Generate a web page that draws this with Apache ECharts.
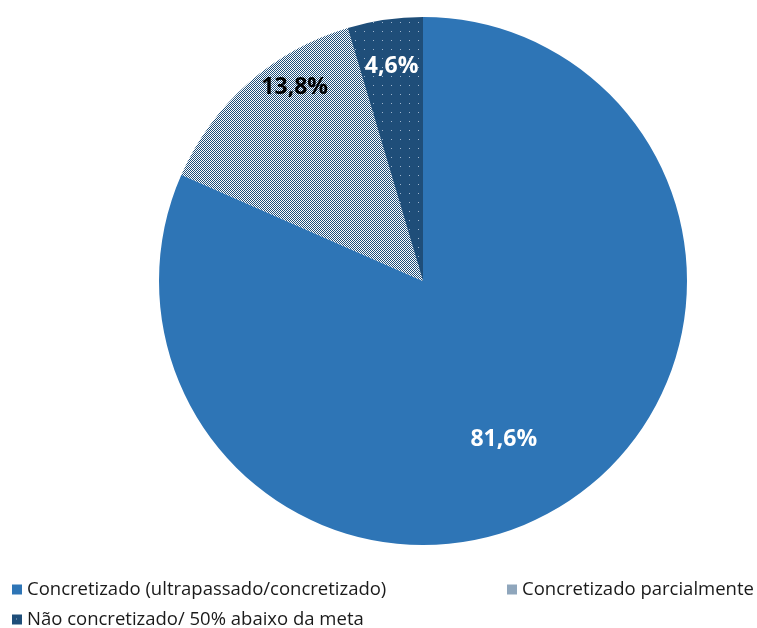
<!DOCTYPE html>
<html><head><meta charset="utf-8">
<script src="https://cdn.jsdelivr.net/npm/echarts@6/dist/echarts.min.js"></script>
<style>html,body{margin:0;padding:0;background:#fff}#c{width:757px;height:628px}</style>
</head><body><div id="c"></div>
<script>
const categories = ['Concretizado (ultrapassado/concretizado)', 'Concretizado parcialmente', 'Não concretizado/ 50% abaixo da meta'];
const values = [81.6, 13.8, 4.6];
const labelTexts = ['81,6%', '13,8%', '4,6%'];

function checker() {
  const c = document.createElement('canvas'); c.width = 2; c.height = 2;
  const g = c.getContext('2d');
  g.fillStyle = '#ffffff'; g.fillRect(0, 0, 2, 2);
  g.fillStyle = '#1F4E79'; g.fillRect(0, 0, 1, 1); g.fillRect(1, 1, 1, 1);
  return c;
}
function dots() {
  const c = document.createElement('canvas'); c.width = 9; c.height = 9;
  const g = c.getContext('2d');
  g.fillStyle = '#1F4E79'; g.fillRect(0, 0, 9, 9);
  g.fillStyle = '#9fb6cf'; g.fillRect(4, 4, 1, 1);
  return c;
}
const fills = ['#2E75B6', {image: checker(), repeat: 'repeat'}, {image: dots(), repeat: 'repeat'}];
const labelColors = ['#ffffff', '#000000', '#ffffff'];
const labelOffsets = [[7, 45], [-39, -92], [-12, -81]];

const chart = echarts.init(document.getElementById('c'));
const legendText = {fontFamily: 'Open Sans', fontSize: 18.5, color: '#1a1a1a'};
const legendBase = {itemWidth: 10, itemHeight: 10, icon: 'rect', textStyle: legendText, padding: 0};
chart.setOption({
  animation: false,
  legend: [
    Object.assign({data: [categories[0]], left: 12, top: 580}, legendBase),
    Object.assign({data: [categories[1]], left: 507, top: 580}, legendBase),
    Object.assign({data: [categories[2]], left: 12, top: 610}, legendBase)
  ],
  series: [{
    type: 'pie',
    center: [423, 281], radius: 264,
    startAngle: 90, clockwise: true,
    label: {show: true, position: 'inside', fontFamily: 'Open Sans', fontWeight: 'bold', fontSize: 23},
    labelLine: {show: false},
    emphasis: {disabled: true},
    data: categories.map((n, i) => ({
      name: n, value: values[i],
      itemStyle: {color: fills[i], borderWidth: 0},
      label: {formatter: labelTexts[i], color: labelColors[i], offset: labelOffsets[i]}
    }))
  }]
});
</script></body></html>
